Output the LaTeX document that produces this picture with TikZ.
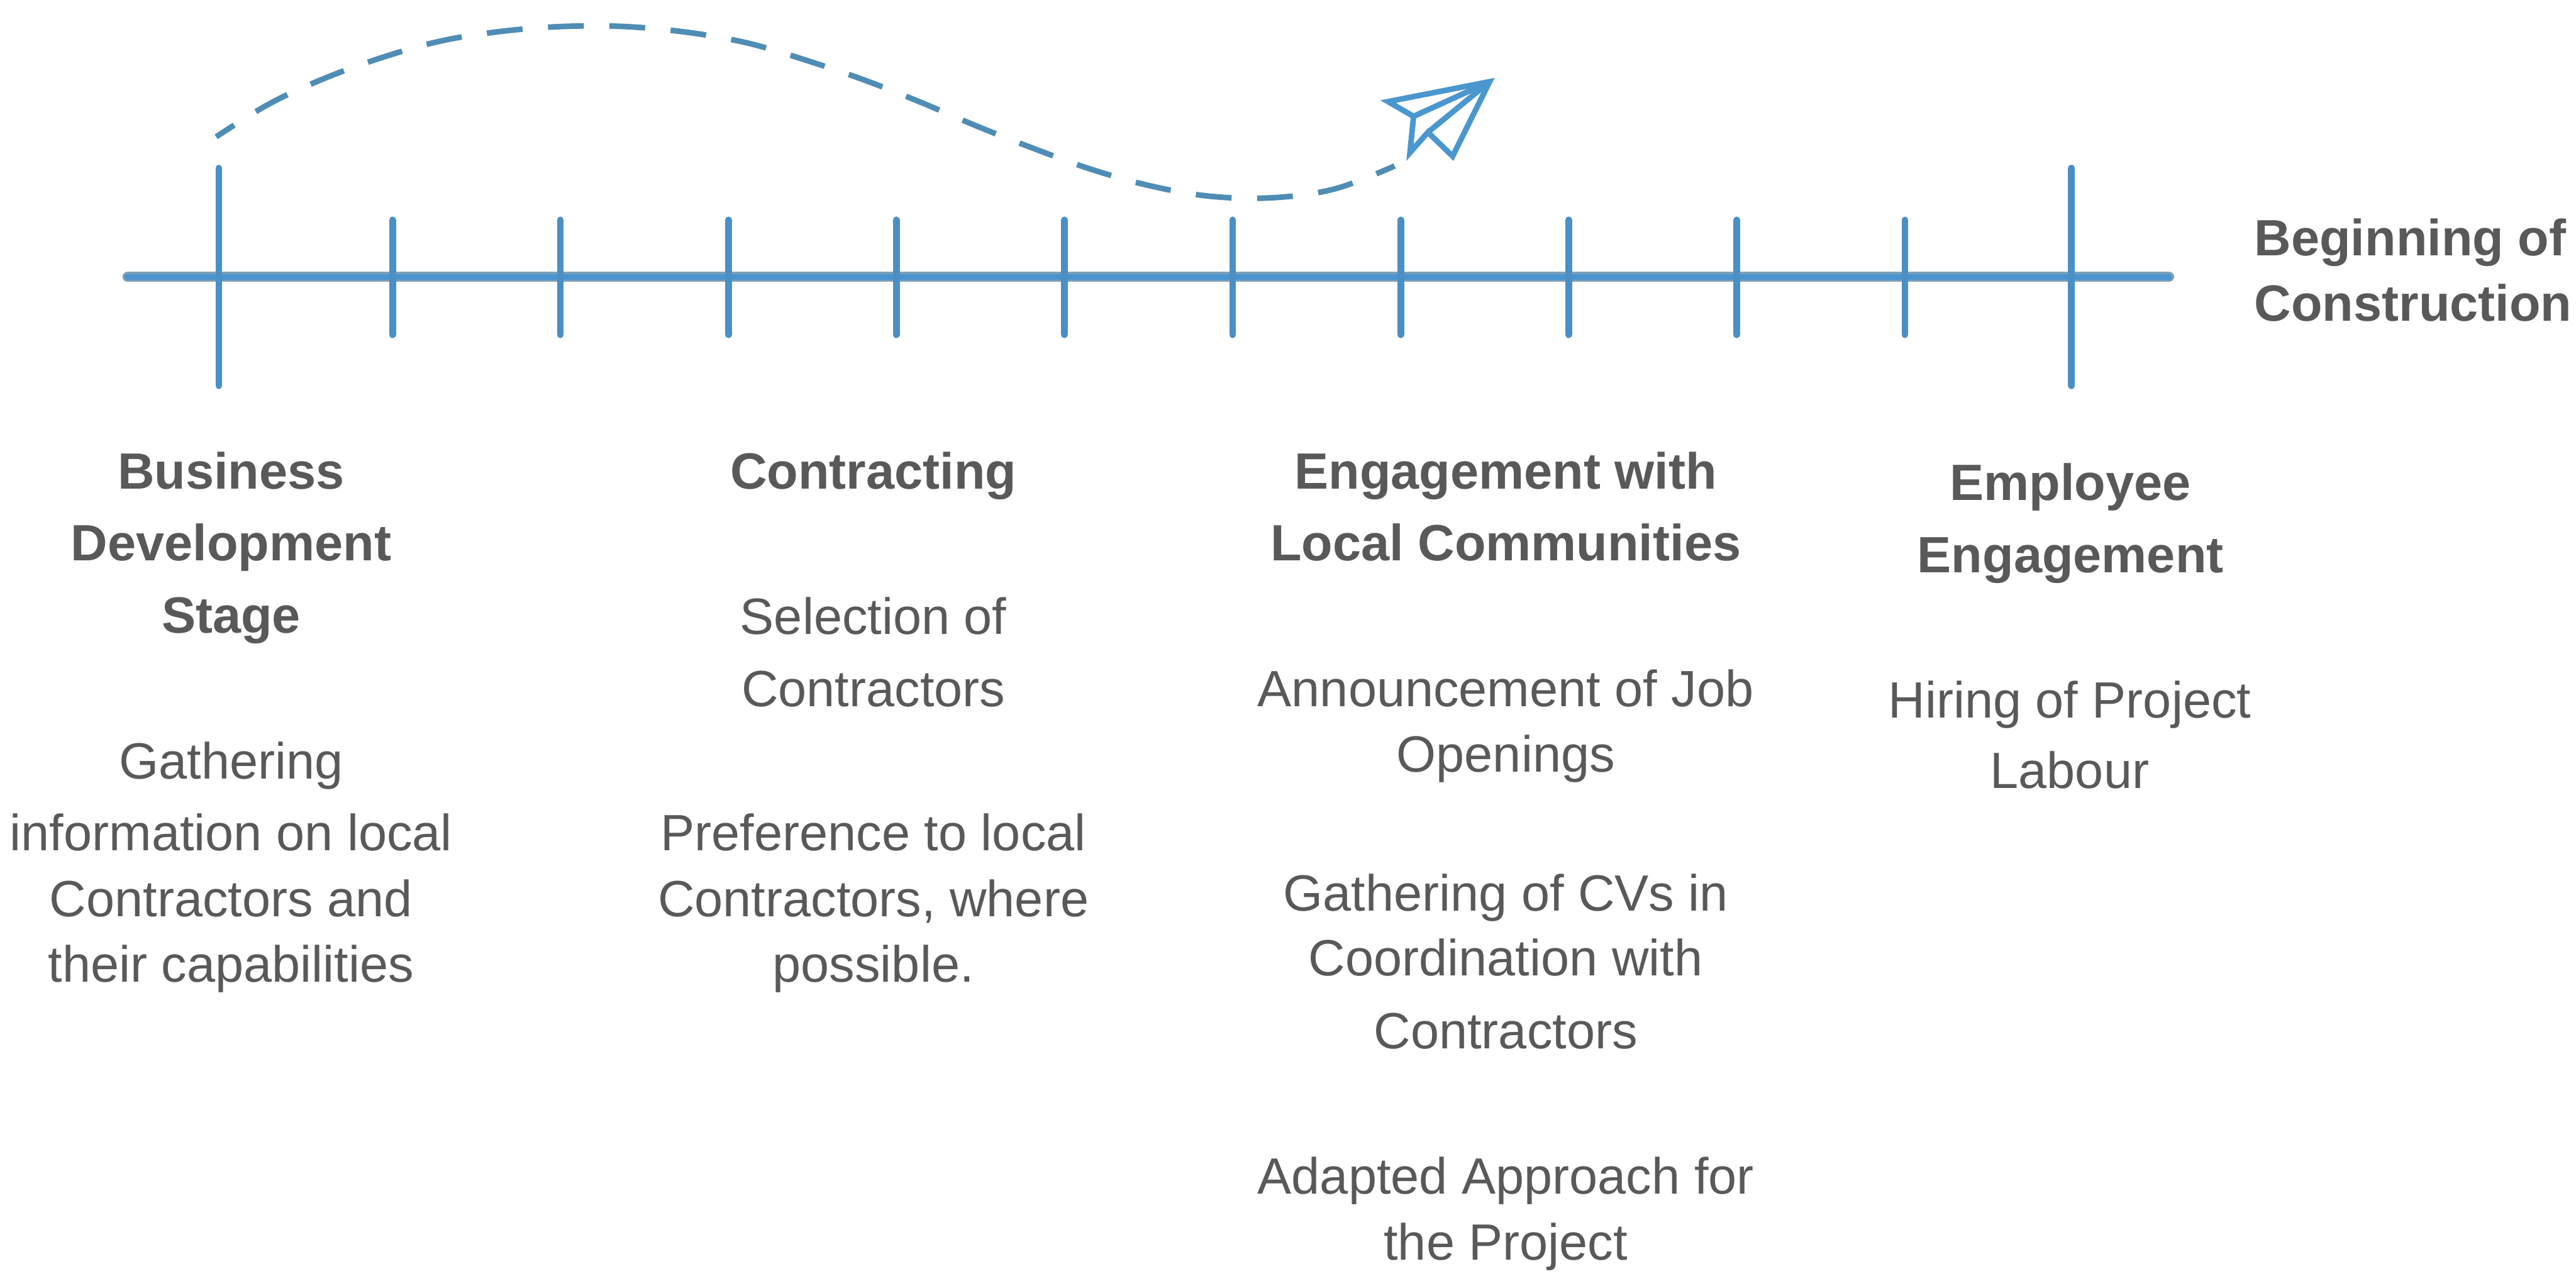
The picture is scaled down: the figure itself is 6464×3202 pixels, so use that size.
\documentclass[tikz,border=0pt]{standalone}
\usepackage{fontspec}
\setmainfont{Liberation Sans}
\definecolor{axisedge}{HTML}{7C9FBA}
\definecolor{axisblue}{HTML}{4A93CE}
\definecolor{curveblue}{HTML}{4F8DB5}
\definecolor{planeblue}{HTML}{4A97CF}
\definecolor{tickblue}{HTML}{4A8FC6}
\definecolor{textgrey}{HTML}{595959}
\tikzset{
  axisouter/.style={draw=axisedge,line width=2.5pt,line cap=round},
  axisinner/.style={draw=axisblue,line width=1.5pt,line cap=round},
  longtick/.style={draw=tickblue,line width=1.7pt,line cap=round},
  shorttick/.style={draw=tickblue,line width=1.7pt,line cap=round},
  flight/.style={draw=curveblue,line width=1.4pt,dash pattern=on 9pt off 6.4pt,dash phase=3.6pt},
  plane/.style={draw=planeblue,line width=1.4pt,line join=miter},
  txt/.style={anchor=base,text=textgrey,inner sep=0pt,font=\fontsize{12.8pt}{15pt}\selectfont},
  head/.style={txt,font=\fontsize{12.8pt}{15pt}\selectfont\bfseries}
}
\begin{document}
\begin{tikzpicture}[x=0.1pt,y=-0.1pt]
\useasboundingbox[fill=white] (0,0) rectangle (6464,3202);
% axis
\coordinate (axL) at (320,695);
\coordinate (axR) at (5443,695);
\draw[axisouter] (axL) -- (axR);
\draw[axisinner] (axL) -- (axR);
\draw[longtick] (549,422) -- (549,968);
\draw[longtick] (5198,422) -- (5198,968);
\foreach \xx in {985,1406,1828,2249,2671,3093,3515,3936,4358,4780}
  \draw[shorttick] (\xx,552) -- (\xx,840);
% flight path
\begin{scope}[shift={(400,0)},x=0.2296pt,y=-0.0636pt]
\draw[flight] plot[smooth,tension=0.6] coordinates {(62,540) (120,410) (180,310) (245,225) (310,160) (378,122) (445,104) (510,105) (578,128) (643,170) (707,238) (772,318) (833,405) (895,500) (957,588) (1020,670) (1085,735) (1150,775) (1218,780) (1285,745) (1350,655)};
\end{scope}
% paper plane
\coordinate (pT) at (3738,205);
\coordinate (pL) at (3483,255);
\coordinate (pC) at (3547,292);
\coordinate (pB) at (3538,383);
\coordinate (pN) at (3583,332);
\coordinate (pR) at (3645,392);
\draw[plane] (pT) -- (pL) -- (pC) -- (pB) -- (pN) -- (pR) -- cycle;
\draw[plane] (pC) -- (pT);
\draw[plane] (pN) -- (pT);
% text
\begin{scope}[x=0.4122pt,y=-0.4122pt]
\node[head,anchor=base west] (t1) at (1372,155.5) {Beginning of};
\node[head,anchor=base west] (t2) at (1372,195.5) {Construction};
\node[head] (a1) at (140.7,297.5) {Business};
\node[head] (a2) at (140.7,341.5) {Development};
\node[head] (a3) at (140.7,385.5) {Stage};
\node[txt] (a4) at (140.7,474) {Gathering};
\node[txt] (a5) at (140.7,518) {information on local};
\node[txt] (a6) at (140.7,558) {Contractors and};
\node[txt] (a7) at (140.7,598) {their capabilities};
\node[head] (b1) at (531.7,297.5) {Contracting};
\node[txt] (b2) at (531.7,386) {Selection of};
\node[txt] (b3) at (531.7,430) {Contractors};
\node[txt] (b4) at (531.7,518) {Preference to local};
\node[txt] (b5) at (531.7,558) {Contractors, where};
\node[txt] (b6) at (531.7,598) {possible.};
\node[head] (c1) at (916.7,297.5) {Engagement with};
\node[head] (c2) at (916.7,341.5) {Local Communities};
\node[txt] (c3) at (916.7,430) {Announcement of Job};
\node[txt] (c4) at (916.7,470) {Openings};
\node[txt] (c5) at (916.7,554.5) {Gathering of CVs in};
\node[txt] (c6) at (916.7,594) {Coordination with};
\node[txt] (c7) at (916.7,638.5) {Contractors};
\node[txt] (c8) at (916.7,727) {Adapted Approach for};
\node[txt] (c9) at (916.7,767) {the Project};
\node[head] (d1) at (1260.5,304.5) {Employee};
\node[head] (d2) at (1260.5,348.5) {Engagement};
\node[txt] (d3) at (1260,437) {Hiring of Project};
\node[txt] (d4) at (1260,480) {Labour};
\end{scope}
\end{tikzpicture}
\end{document}
